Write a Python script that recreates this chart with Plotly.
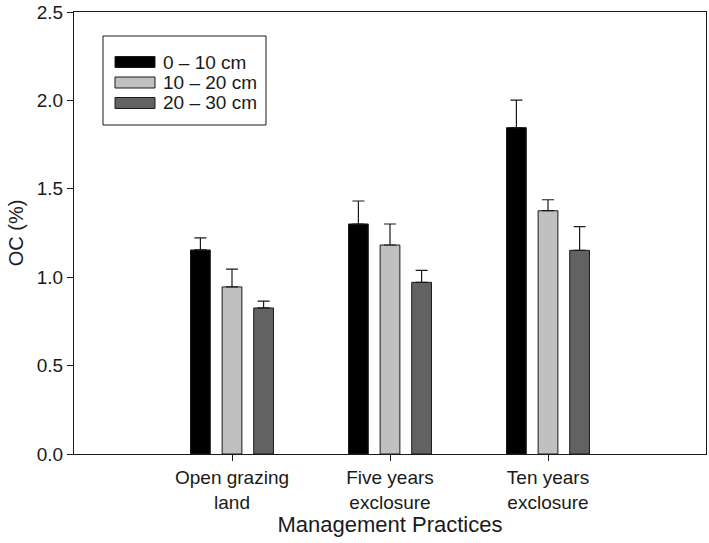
import plotly.graph_objects as go

categories = ["Open grazing<br>land", "Five years<br>exclosure", "Ten years<br>exclosure"]
series_names = ["0 – 10 cm", "10 – 20 cm", "20 – 30 cm"]
oc_0_10 = [1.154, 1.301, 1.846]
oc_10_20 = [0.945, 1.182, 1.376]
oc_20_30 = [0.826, 0.971, 1.152]
err_0_10 = [0.068, 0.130, 0.156]
err_10_20 = [0.101, 0.119, 0.062]
err_20_30 = [0.039, 0.068, 0.134]
colors = ["#000000", "#c0c0c0", "#626262"]
y_ticks = [0.0, 0.5, 1.0, 1.5, 2.0, 2.5]

values = [oc_0_10, oc_10_20, oc_20_30]
errors = [err_0_10, err_10_20, err_20_30]

FONT = "Liberation Sans, Arial, sans-serif"

fig = go.Figure()
for name, v, e, c in zip(series_names, values, errors, colors):
    fig.add_trace(go.Bar(
        x=list(range(len(categories))), y=v, name=name,
        marker=dict(color=c, line=dict(color="#1a1a1a", width=1)),
        error_y=dict(type="data", array=e, arrayminus=[0] * len(e), symmetric=False,
                     color="#1a1a1a", thickness=1.2, width=6),
        showlegend=False,
    ))

# Manual legend (box with long swatches), positioned in pixels
W, H = 709, 543
ml, mr, mt, mb = 74, 3, 12, 89
pw, ph = W - ml - mr, H - mt - mb

def px(x):
    return (x - ml) / pw

def py(y):
    return 1 - (y - mt) / ph

shapes = [dict(type="rect", xref="paper", yref="paper", x0=px(103), x1=px(266), y0=py(125), y1=py(36),
               line=dict(color="#1a1a1a", width=1), fillcolor="white", layer="above")]
annotations = []
row_y = [62, 82.5, 103]
for name, c, ry in zip(series_names, colors, row_y):
    shapes.append(dict(type="rect", xref="paper", yref="paper", x0=px(115), x1=px(155),
                       y0=py(ry + 5.5), y1=py(ry - 5.5), fillcolor=c,
                       line=dict(color="#1a1a1a", width=1), layer="above"))
    annotations.append(dict(xref="paper", yref="paper", x=px(161), y=py(ry), text=name,
                            showarrow=False, xanchor="left", yanchor="middle",
                            font=dict(family=FONT, size=19, color="#1a1a1a")))

fig.update_layout(
    width=W, height=H,
    margin=dict(l=ml, r=mr, t=mt, b=mb, autoexpand=False),
    plot_bgcolor="white", paper_bgcolor="white",
    barmode="group", bargap=0.4, bargroupgap=0.375,
    font=dict(family=FONT, size=19, color="#1a1a1a"),
    shapes=shapes, annotations=annotations,
    xaxis=dict(range=[-1, 3], tickmode="array", tickvals=list(range(len(categories))),
               ticktext=categories, ticks="outside", ticklen=6, tickcolor="#1a1a1a",
               showline=True, linecolor="#1a1a1a", linewidth=1, mirror=True,
               showgrid=False, zeroline=False, automargin=False,
               tickfont=dict(size=19),
               title=dict(text="Management Practices", font=dict(size=22), standoff=1)),
    yaxis=dict(range=[0, 2.5], tickvals=y_ticks, tickformat=".1f",
               ticks="outside", ticklen=6, tickcolor="#1a1a1a",
               showline=True, linecolor="#1a1a1a", linewidth=1, mirror=True,
               showgrid=False, zeroline=False, automargin=False, tickfont=dict(size=19),
               title=dict(text="OC (%)", font=dict(size=20), standoff=7)),
)

fig.write_html("out.html", config={"displayModeBar": False},
               post_script="document.body.style.margin='0';")
